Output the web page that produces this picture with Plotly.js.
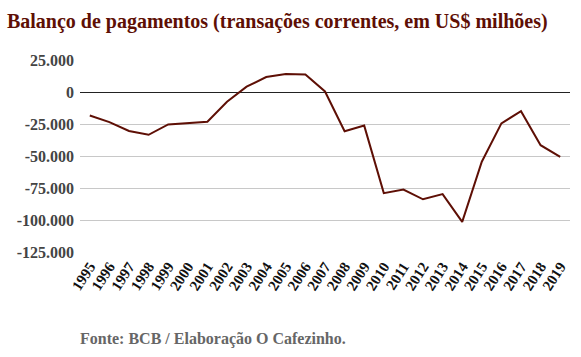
<!DOCTYPE html>
<html><head><meta charset="utf-8">
<script src="https://cdn.plot.ly/plotly-3.0.1.min.js"></script>
<style>body{margin:0;padding:0;background:#fff}#chart{width:581px;height:357px}</style>
</head><body><div id="chart"></div>
<script>
const years = ['1995','1996','1997','1998','1999','2000','2001','2002','2003','2004','2005','2006','2007','2008','2009','2010','2011','2012','2013','2014','2015','2016','2017','2018','2019'];
const balance = [-18384,-23502,-30452,-33416,-25335,-24225,-23215,-7637,4177,11679,13985,13643,408,-30640,-26261,-79014,-76283,-83826,-79792,-101431,-54472,-24475,-15039,-41540,-50762];
const yTicks = [25000,0,-25000,-50000,-75000,-100000,-125000];
const yTickText = ['25.000','0','-25.000','-50.000','-75.000','-100.000','-125.000'];

Plotly.newPlot('chart',[{
  x: years, y: balance, type:'scatter', mode:'lines',
  line:{color:'#5e0f05', width:2}, hoverinfo:'skip'
}],{
  width:581, height:357,
  margin:{l:80,r:11,t:60,b:105},
  paper_bgcolor:'#fff', plot_bgcolor:'#fff',
  font:{family:'Liberation Serif, serif'},
  title:{text:'<b>Balanço de pagamentos (transações correntes, em US$ milhões)</b>',
    font:{family:'Liberation Serif, serif', size:20, color:'#5e0f05'},
    x:0.012, xanchor:'left', y:0.94, yanchor:'middle'},
  xaxis:{type:'category', range:[-0.5,24.5], tickangle:-57, showgrid:false, zeroline:false, showline:false,
    ticks:'', ticklabelstandoff:2, tickfont:{family:'Liberation Serif, serif', size:15, color:'#111', weight:'bold'}},
  yaxis:{range:[-125000,25000], tickvals:yTicks, ticktext:yTickText, showgrid:true, gridcolor:'#c8c8c8', gridwidth:1,
    zeroline:true, zerolinecolor:'#222', zerolinewidth:1, showline:false, ticks:'', ticklen:0, ticklabelstandoff:5,
    tickfont:{family:'Liberation Serif, serif', size:16, color:'#444', weight:'bold'}},
  annotations:[{text:'<b>Fonte: BCB / Elaboração O Cafezinho.</b>', xref:'paper', yref:'paper',
    x:-0.004, y:-0.455, xanchor:'left', yanchor:'middle', showarrow:false,
    font:{family:'Liberation Serif, serif', size:16, color:'#666'}}],
  showlegend:false
},{displayModeBar:false, staticPlot:true});
</script></body></html>
